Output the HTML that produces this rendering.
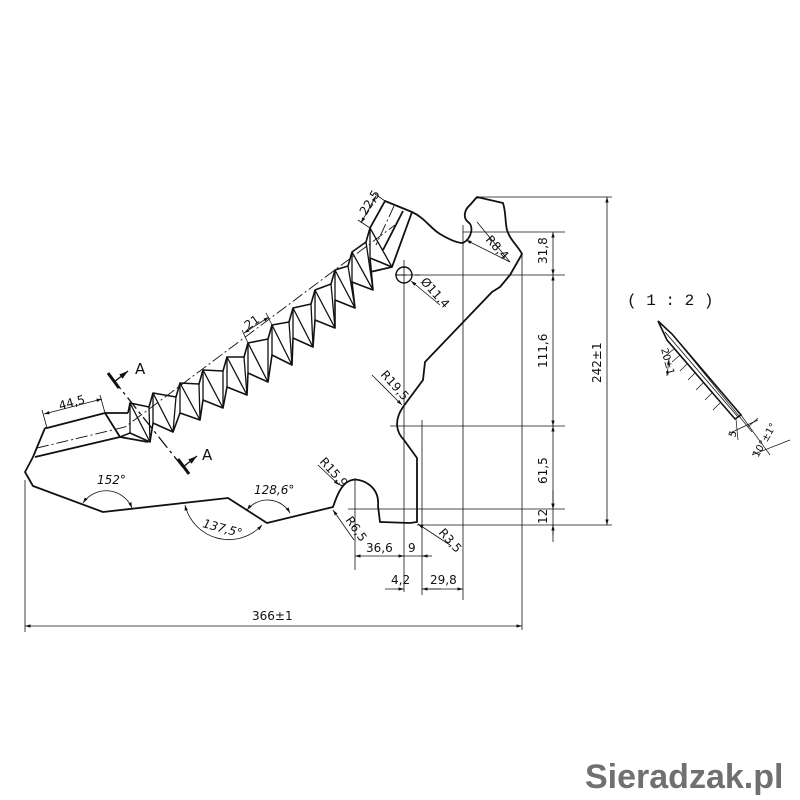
<!DOCTYPE html>
<html><head><meta charset="utf-8"><style>
html,body{margin:0;padding:0;background:#fff;}
svg{display:block;}
text{font-family:"DejaVu Sans","Liberation Sans",sans-serif;font-size:11px;fill:#111;}
</style></head><body>
<svg id="s" width="800" height="800" viewBox="0 0 800 800" xmlns="http://www.w3.org/2000/svg">
<defs>
<marker id="ar" viewBox="0 0 10 10" refX="10" refY="5" markerWidth="7" markerHeight="7" orient="auto-start-reverse"><path d="M0,2 L10,5 L0,8 z" fill="#111"/></marker>
</defs>
<rect width="800" height="800" fill="#fff"/>
<g id="teeth" stroke="#111" stroke-width="1.6" fill="none" stroke-linejoin="round"></g>
<!-- main outline -->
<g stroke="#111" stroke-width="1.8" fill="none" stroke-linejoin="round">
<path d="M370,228 L385,201 L412,212 C425,218 430,228 440,234 C450,240 458,243 463,243 C472,238 474,226 468,222 C463,218 464,210 470,205 L477,197 L503,203 C506,212 505,222 507,230 C510,240 518,246 522,254 L510,275 L500,287 L492,292 L425,362 L423,380 L403,407 C394,420 396,432 404,440 L417,458 L417,522 L410,523 L380,522 L378,506 C380,485 360,478 352,480 C343,482 338,492 333,507 L267,523 L228,498 L103,512 L33,486 L25,472 L33,457 L45,428"/>
<path d="M45,428 L47,428 L105,413 L120,437"/>
<path d="M105,413 L128,413"/>
<path d="M35,457 L120,437 L148,442"/>
<path d="M412,212 L392,267 L370,272"/>
<path d="M403,211 L383,250"/>
<circle cx="404" cy="275" r="8" stroke-width="1.4"/>
</g>
<!-- centre lines -->
<g stroke="#111" stroke-width="0.9" fill="none" stroke-dasharray="12,3,2,3">
<path d="M37,448 L125,427 L395,225"/>
<path d="M394,206 L376,245"/>
<path d="M395,275 L420,275"/>
</g>
<!-- section A -->
<g stroke="#111" fill="none">
<path d="M112,378 L185,470" stroke-width="1.3" stroke-dasharray="14,4,3,4"/>
<path d="M108,373 L119,388" stroke-width="3"/>
<path d="M178,459 L189,474" stroke-width="3"/>
<path d="M114,382 L128,371" stroke-width="1.3" marker-end="url(#ar)"/>
<path d="M183,467 L197,456" stroke-width="1.3" marker-end="url(#ar)"/>
</g>
<text x="135" y="374" style="font-size:15px">A</text>
<text x="202" y="460" style="font-size:15px">A</text>
<!-- thin dimension/extension lines -->
<g stroke="#111" stroke-width="0.8" fill="none">
<path d="M477,197 L612,197"/><path d="M463,232 L565,232"/><path d="M395,275 L565,275"/>
<path d="M390,426 L565,426"/><path d="M348,509 L565,509"/><path d="M417,525 L612,525"/>
<path d="M404,260 L404,592"/><path d="M463,225 L463,600"/><path d="M522,255 L522,630"/><path d="M422,420 L422,595"/><path d="M355,478 L355,570"/><path d="M25,480 L25,632"/>
<path d="M607,197 L607,525" marker-start="url(#ar)" marker-end="url(#ar)"/>
<path d="M553,232 L553,275" marker-start="url(#ar)" marker-end="url(#ar)"/>
<path d="M553,275 L553,426" marker-start="url(#ar)" marker-end="url(#ar)"/>
<path d="M553,426 L553,509" marker-start="url(#ar)" marker-end="url(#ar)"/>
<path d="M553,509 L553,535"/>
<path d="M553,490 L553,509" marker-end="url(#ar)"/>
<path d="M553,542 L553,525" marker-end="url(#ar)"/>
<path d="M355,556 L404,556" marker-start="url(#ar)" marker-end="url(#ar)"/>
<path d="M404,556 L429,556"/><path d="M432,556 L422,556" marker-end="url(#ar)"/>
<path d="M385,589 L404,589" marker-end="url(#ar)"/><path d="M441,589 L422,589" marker-end="url(#ar)"/>
<path d="M422,589 L463,589" marker-end="url(#ar)"/>
<path d="M25,626 L522,626" marker-start="url(#ar)" marker-end="url(#ar)"/>
<path d="M47,428 L42,410"/><path d="M105,413 L100,395"/><path d="M44,414 L102,399" marker-start="url(#ar)" marker-end="url(#ar)"/>
<path d="M370,228 L358,220"/><path d="M385,201 L375,194"/><path d="M361,223 L376,196" marker-start="url(#ar)" marker-end="url(#ar)"/>
<path d="M248,343 L242,330"/><path d="M272,325 L266,313"/><path d="M244,333 L269,317" marker-start="url(#ar)" marker-end="url(#ar)"/>
<path d="M477,222 L510,262"/><path d="M510,262 L466,240" marker-end="url(#ar)"/>
<path d="M440,305 L411,281" marker-end="url(#ar)"/>
<path d="M372,375 L402,405" marker-end="url(#ar)"/>
<path d="M318,465 L339,485" marker-end="url(#ar)"/>
<path d="M354,540 L333,510" marker-end="url(#ar)"/>
<path d="M450,545 L418,524" marker-end="url(#ar)"/>
<path d="M83,503 A28,28 0 0 1 132,508" marker-start="url(#ar)" marker-end="url(#ar)"/>
<path d="M247,510 A26,26 0 0 1 290,513" marker-start="url(#ar)" marker-end="url(#ar)"/>
<path d="M185,505 A45,45 0 0 0 262,525" marker-start="url(#ar)" marker-end="url(#ar)"/>
</g>
<!-- labels -->
<text x="60" y="410" transform="rotate(-15 60 410)" style="font-size:12px">44,5</text>
<text x="0" y="0" transform="translate(366,216) rotate(-58)" style="font-size:12px">22,5</text>
<text x="0" y="0" transform="translate(248,330) rotate(-35)" style="font-size:12px">21</text>
<text x="0" y="0" transform="translate(485,240) rotate(48)" style="font-size:12px">R8,4</text>
<text x="0" y="0" transform="translate(420,282) rotate(48)" style="font-size:12px">Ø11,4</text>
<text x="0" y="0" transform="translate(380,375) rotate(48)" style="font-size:12px">R19,5</text>
<text x="0" y="0" transform="translate(319,462) rotate(48)" style="font-size:12px">R15,9</text>
<text x="0" y="0" transform="translate(345,520) rotate(55)" style="font-size:12px">R6,5</text>
<text x="0" y="0" transform="translate(438,533) rotate(48)" style="font-size:12px">R3,5</text>
<text x="0" y="0" transform="translate(547,264) rotate(-90)" style="font-size:12px">31,8</text>
<text x="0" y="0" transform="translate(547,368) rotate(-90)" style="font-size:12px">111,6</text>
<text x="0" y="0" transform="translate(547,484) rotate(-90)" style="font-size:12px">61,5</text>
<text x="0" y="0" transform="translate(547,524) rotate(-90)" style="font-size:12px">12</text>
<text x="0" y="0" transform="translate(601,383) rotate(-90)" style="font-size:12px">242±1</text>
<text x="366" y="552" style="font-size:12px">36,6</text>
<text x="408" y="552" style="font-size:12px">9</text>
<text x="391" y="584" style="font-size:12px">4,2</text>
<text x="430" y="584" style="font-size:12px">29,8</text>
<text x="252" y="620" style="font-size:12px">366±1</text>
<text x="97" y="484" style="font-style:italic;font-size:12px">152°</text>
<text x="254" y="494" style="font-style:italic;font-size:12px">128,6°</text>
<text x="0" y="0" transform="translate(202,527) rotate(15)" style="font-style:italic;font-size:12px">137,5°</text>
<!-- detail 1:2 -->
<text x="627" y="305" style="font-family:'Liberation Mono',monospace;font-size:16px">( 1 : 2 )</text>
<g stroke="#111" fill="none">
<path d="M658,321 L672,334 L741,415 L735,419 L667,340 Z" stroke-width="1.6"/>
<path d="M665,332 L738,417" stroke-width="0.8"/>
<path d="M672,334 L752,432" stroke-width="0.7"/>
<path d="M741,415 L770,455" stroke-width="0.7"/>
<path d="M680,355 L672,362" stroke-width="0.7"/><path d="M687,364 L680,371" stroke-width="0.7"/><path d="M695,373 L688,380" stroke-width="0.7"/><path d="M703,383 L696,390" stroke-width="0.7"/><path d="M712,393 L705,400" stroke-width="0.7"/><path d="M720,403 L713,410" stroke-width="0.7"/>
<path d="M675,348 L663,358" stroke-width="0.7"/><path d="M669,359 L667,376" stroke-width="0.7" marker-start="url(#ar)" marker-end="url(#ar)"/>
<path d="M736,419 L738,440" stroke-width="0.7"/><path d="M748,427 L758,418" stroke-width="0.7"/><path d="M730,433 L758,420" stroke-width="0.7"/>
<path d="M752,455 L790,440" stroke-width="0.7"/>
</g>
<text x="0" y="0" transform="translate(661,349) rotate(75)" style="font-size:10px">20±1</text>
<text x="0" y="0" transform="translate(735,438) rotate(-72)" style="font-size:10px">5</text>
<text x="0" y="0" transform="translate(758,458) rotate(-60)" style="font-size:10px">10°±1°</text>
<text x="585" y="788" style="font-family:'Liberation Sans',sans-serif;font-weight:bold;font-size:34px;fill:#707070">Sieradzak.pl</text>
</svg>
<script>
(function(){
var T=[[130,403],[153,393],[180,383],[203,370],[227,357],[248,343],[272,325],[293,308],[315,290],[335,270],[352,252],[370,228]];
var V=[[150,442],[173,432],[200,420],[223,408],[247,395],[268,382],[292,365],[313,347],[335,328],[355,308],[373,290],[392,267]];
var top='M128,413 ',bot='M120,437 ',diag='';
for(var i=0;i<T.length;i++){
 var t=T[i],v=V[i];
 var L=[t[0],t[1]+30];
 top+='L'+t[0]+','+t[1]+' ';
 if(i<T.length-1){var n=T[i+1];top+='L'+(n[0]-4)+','+(n[1]+14)+' ';}
 bot+='L'+L[0]+','+L[1]+' L'+v[0]+','+v[1]+' ';
 diag+='M'+t[0]+','+t[1]+' L'+v[0]+','+v[1]+' M'+t[0]+','+t[1]+' L'+L[0]+','+L[1]+' ';
 if(i<T.length-1){var n2=T[i+1];diag+='M'+(n2[0]-4)+','+(n2[1]+14)+' L'+v[0]+','+v[1]+' ';}
}
var g=document.getElementById('teeth'),ns='http://www.w3.org/2000/svg';
[top,bot,diag].forEach(function(d,k){var e=document.createElementNS(ns,'path');e.setAttribute('d',d);if(k==2)e.setAttribute('stroke-width','1.3');g.appendChild(e);});
})();
</script>
</body></html>
